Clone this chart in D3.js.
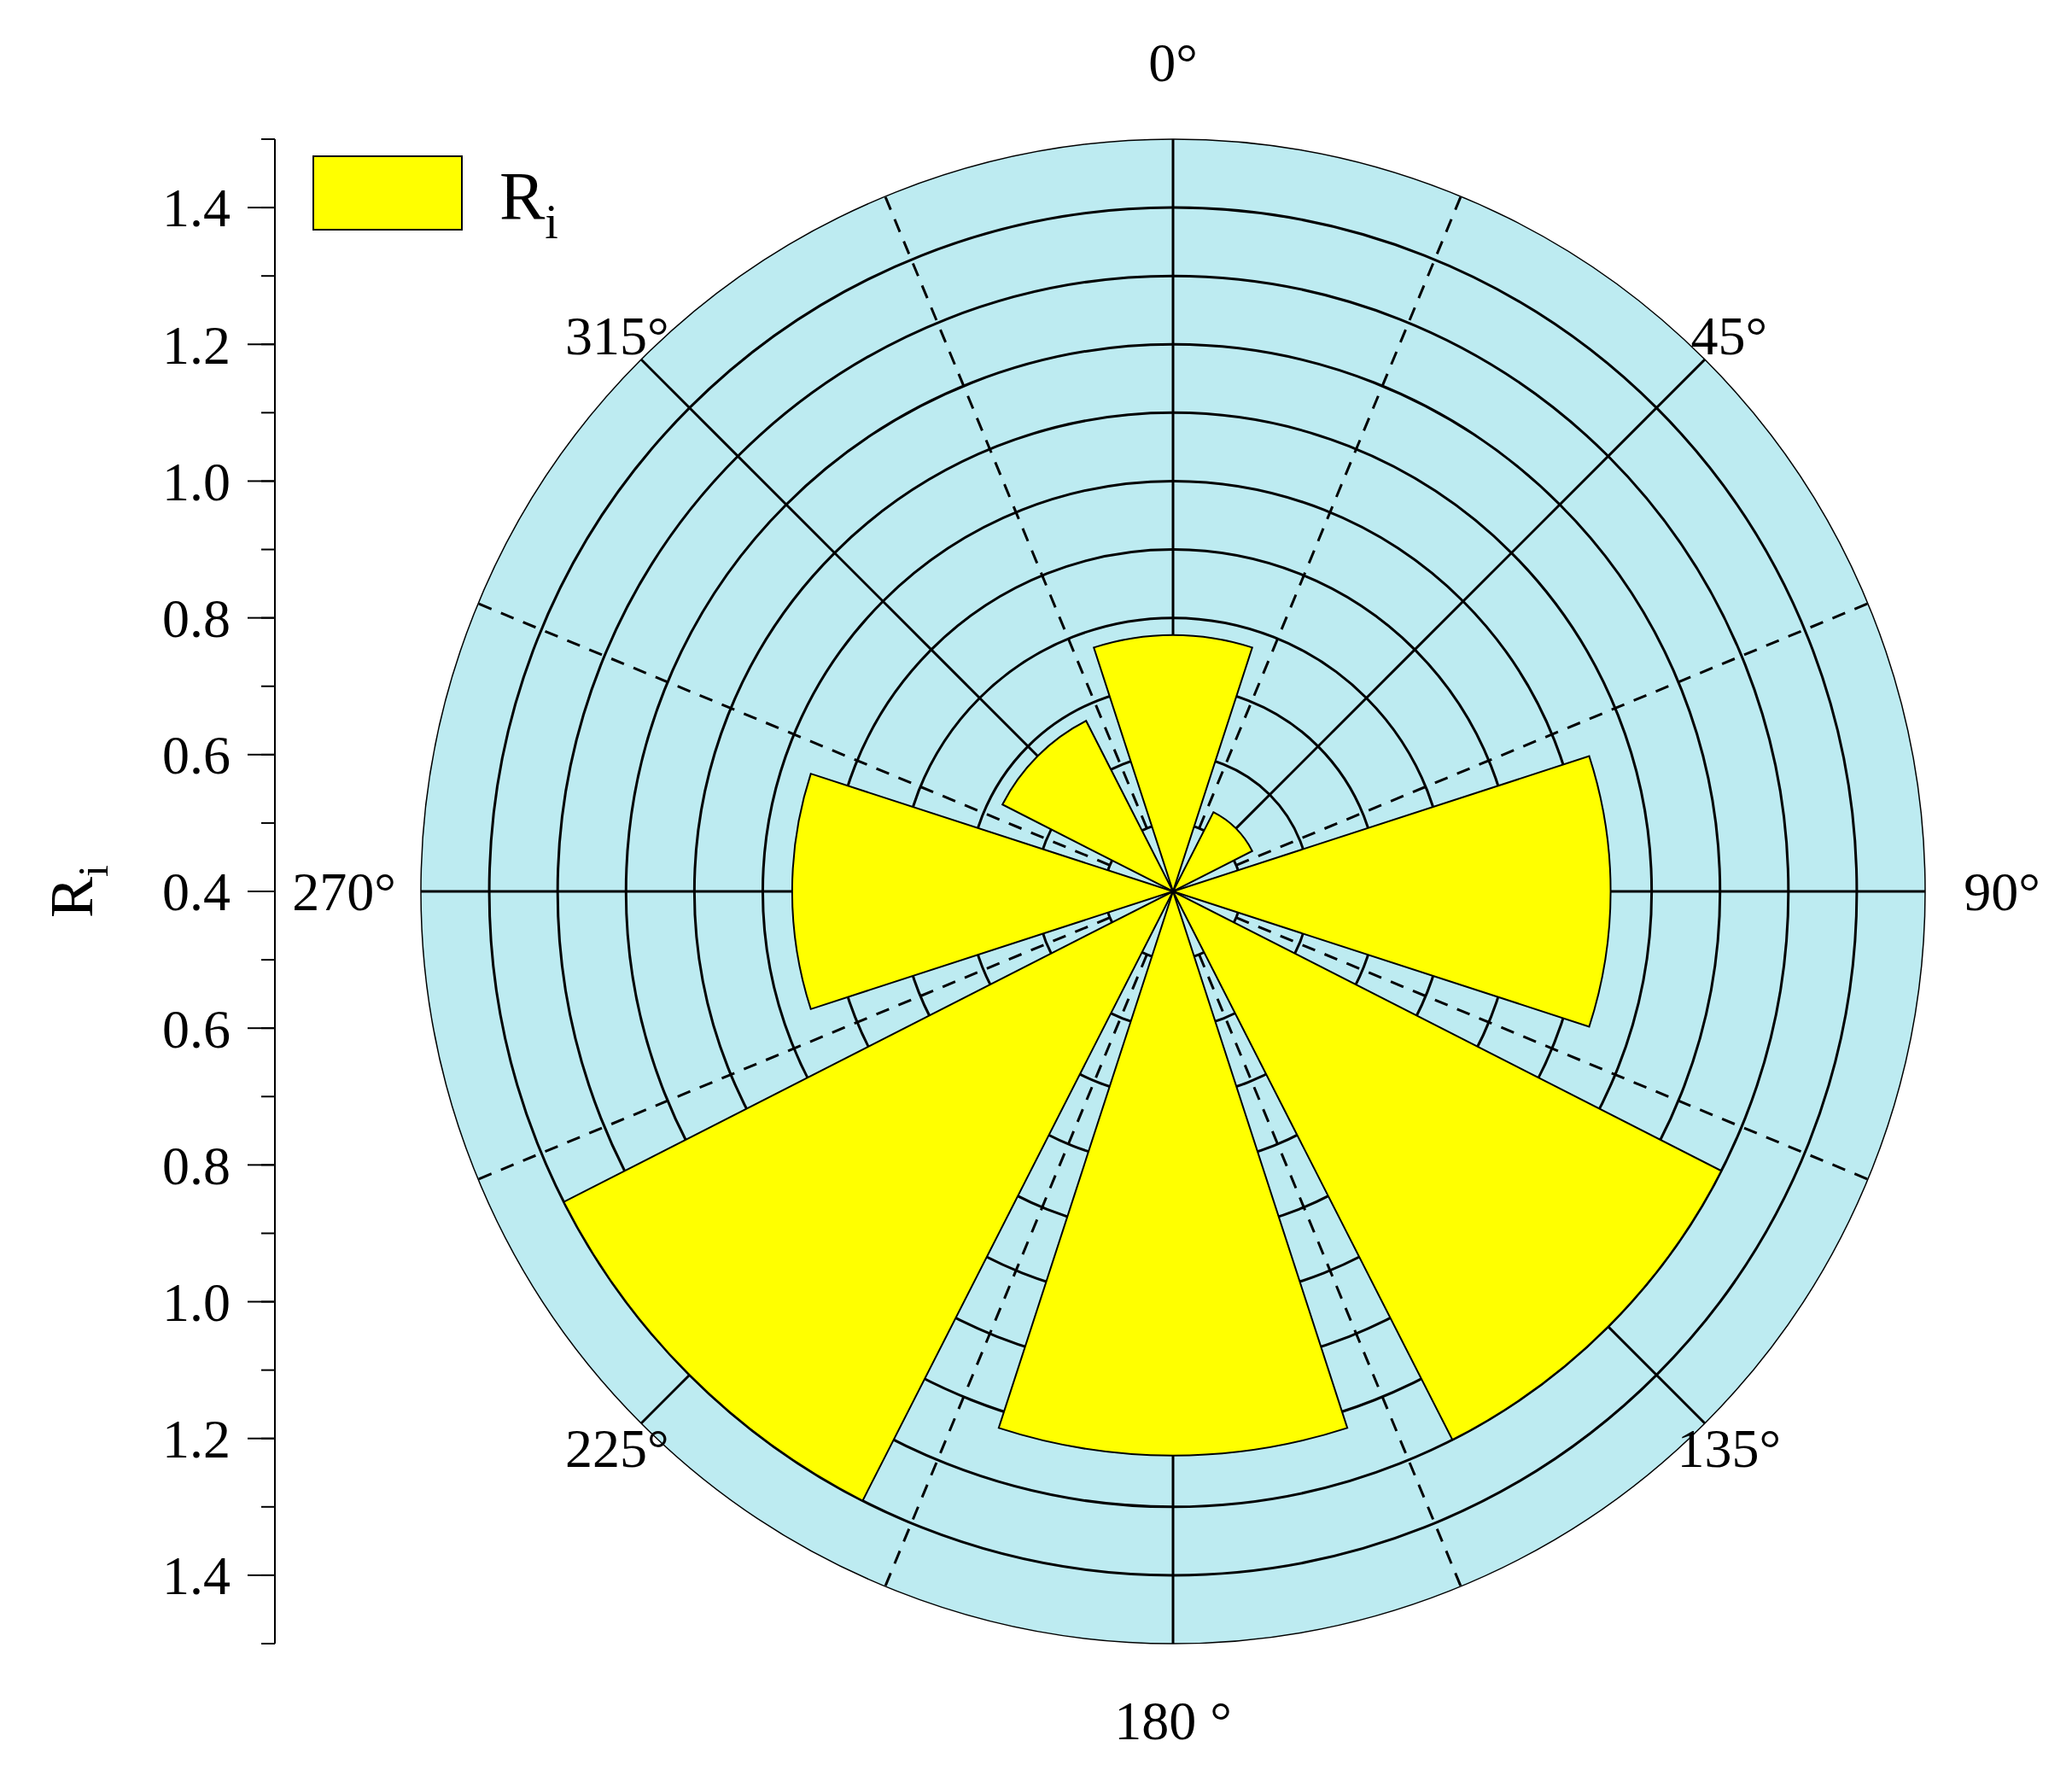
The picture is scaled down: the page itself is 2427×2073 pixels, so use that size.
<!DOCTYPE html>
<html><head><meta charset="utf-8">
<script src="https://cdn.jsdelivr.net/npm/d3@7"></script>
<style>body{margin:0;background:#fff}</style></head>
<body><svg id="c" width="2427" height="2073"></svg>
<script>
const directions = [0, 45, 90, 135, 180, 225, 270, 315];
const values = [0.775, 0.53, 1.04, 1.30, 1.225, 1.40, 0.957, 0.68];
const angleLabels = ["0°", "45°", "90°", "135°", "180 °", "225°", "270°", "315°"];
const axisTicks = [0.4, 0.6, 0.8, 1.0, 1.2, 1.4];
const ringValues = [0.5, 0.6, 0.7, 0.8, 0.9, 1.0, 1.1, 1.2, 1.3, 1.4];

const svg = d3.select("#c");
const cx = 1374, cy = 1044, R = 881;
const rMin = 0.4, rMax = 1.5, barWidth = 36;
const r = d3.scaleLinear().domain([rMin, rMax]).range([0, R]);
const font = "'Liberation Serif', 'Times New Roman', serif";
const g = svg.append("g").attr("transform", `translate(${cx},${cy})`);

g.append("circle").attr("r", R).attr("fill", "#bdebf1").attr("stroke", "#000").attr("stroke-width", 1.5);
g.selectAll(".ring").data(ringValues).join("circle")
  .attr("r", d => r(d)).attr("fill", "none").attr("stroke", "#000").attr("stroke-width", 3);

const rad = a => a * Math.PI / 180;
const spokes = d3.range(0, 360, 22.5);
g.selectAll(".spoke").data(spokes).join("line")
  .attr("x1", d => Math.sin(rad(d)) * r(0.5)).attr("y1", d => -Math.cos(rad(d)) * r(0.5))
  .attr("x2", d => Math.sin(rad(d)) * R).attr("y2", d => -Math.cos(rad(d)) * R)
  .attr("stroke", "#000").attr("stroke-width", 3)
  .attr("stroke-dasharray", d => (d % 45 === 0) ? null : "16,12");

const arc = d3.arc().innerRadius(0);
g.selectAll(".bar").data(directions).join("path")
  .attr("d", (d, i) => arc({outerRadius: r(values[i]), startAngle: rad(d - barWidth / 2), endAngle: rad(d + barWidth / 2)}))
  .attr("fill", "#ffff00").attr("stroke", "#000").attr("stroke-width", 2);

// angle labels
const labelR = R + 80;
g.selectAll(".al").data(directions).join("text")
  .attr("x", (d) => Math.sin(rad(d)) * (d % 90 === 0 ? R + 90 : R + 40))
  .attr("y", (d) => -Math.cos(rad(d)) * (d % 90 === 0 ? R + 90 : R + 40))
  .attr("dy", "0.35em").attr("text-anchor", "middle")
  .attr("font-family", font).attr("font-size", 64)
  .text((d, i) => angleLabels[i]);

// left axis
const ax = 322;
const yUp = d3.scaleLinear().domain([rMin, rMax]).range([cy, cy - R]);
const yDn = d3.scaleLinear().domain([rMin, rMax]).range([cy, cy + R]);
svg.append("line").attr("x1", ax).attr("x2", ax).attr("y1", cy - R).attr("y2", cy + R).attr("stroke", "#000").attr("stroke-width", 2);
const minor = d3.range(0.5, 1.51, 0.1);
[yUp, yDn].forEach(sc => {
  svg.selectAll(null).data(minor).join("line")
    .attr("x1", ax - 16).attr("x2", ax).attr("y1", d => sc(d)).attr("y2", d => sc(d)).attr("stroke", "#000").attr("stroke-width", 2);
  svg.selectAll(null).data(axisTicks).join("line")
    .attr("x1", ax - 32).attr("x2", ax).attr("y1", d => sc(d)).attr("y2", d => sc(d)).attr("stroke", "#000").attr("stroke-width", 2);
  svg.selectAll(null).data(axisTicks.filter(d => !(sc === yDn && d === 0.4))).join("text")
    .attr("x", ax - 52).attr("y", d => sc(d)).attr("dy", "0.35em").attr("text-anchor", "end")
    .attr("font-family", font).attr("font-size", 64).text(d => d.toFixed(1));
});
const t = svg.append("text").attr("transform", `translate(108,${cy}) rotate(-90)`).attr("text-anchor", "middle")
  .attr("font-family", font).attr("font-size", 72);
t.append("tspan").text("R");
t.append("tspan").attr("font-size", 50).attr("dy", 18).text("i");

// legend
svg.append("rect").attr("x", 367).attr("y", 183).attr("width", 174).attr("height", 86)
  .attr("fill", "#ffff00").attr("stroke", "#000").attr("stroke-width", 2);
const lt = svg.append("text").attr("x", 585).attr("y", 257).attr("font-family", font).attr("font-size", 80);
lt.append("tspan").text("R");
lt.append("tspan").attr("font-size", 56).attr("dy", 22).text("i");
</script></body></html>
